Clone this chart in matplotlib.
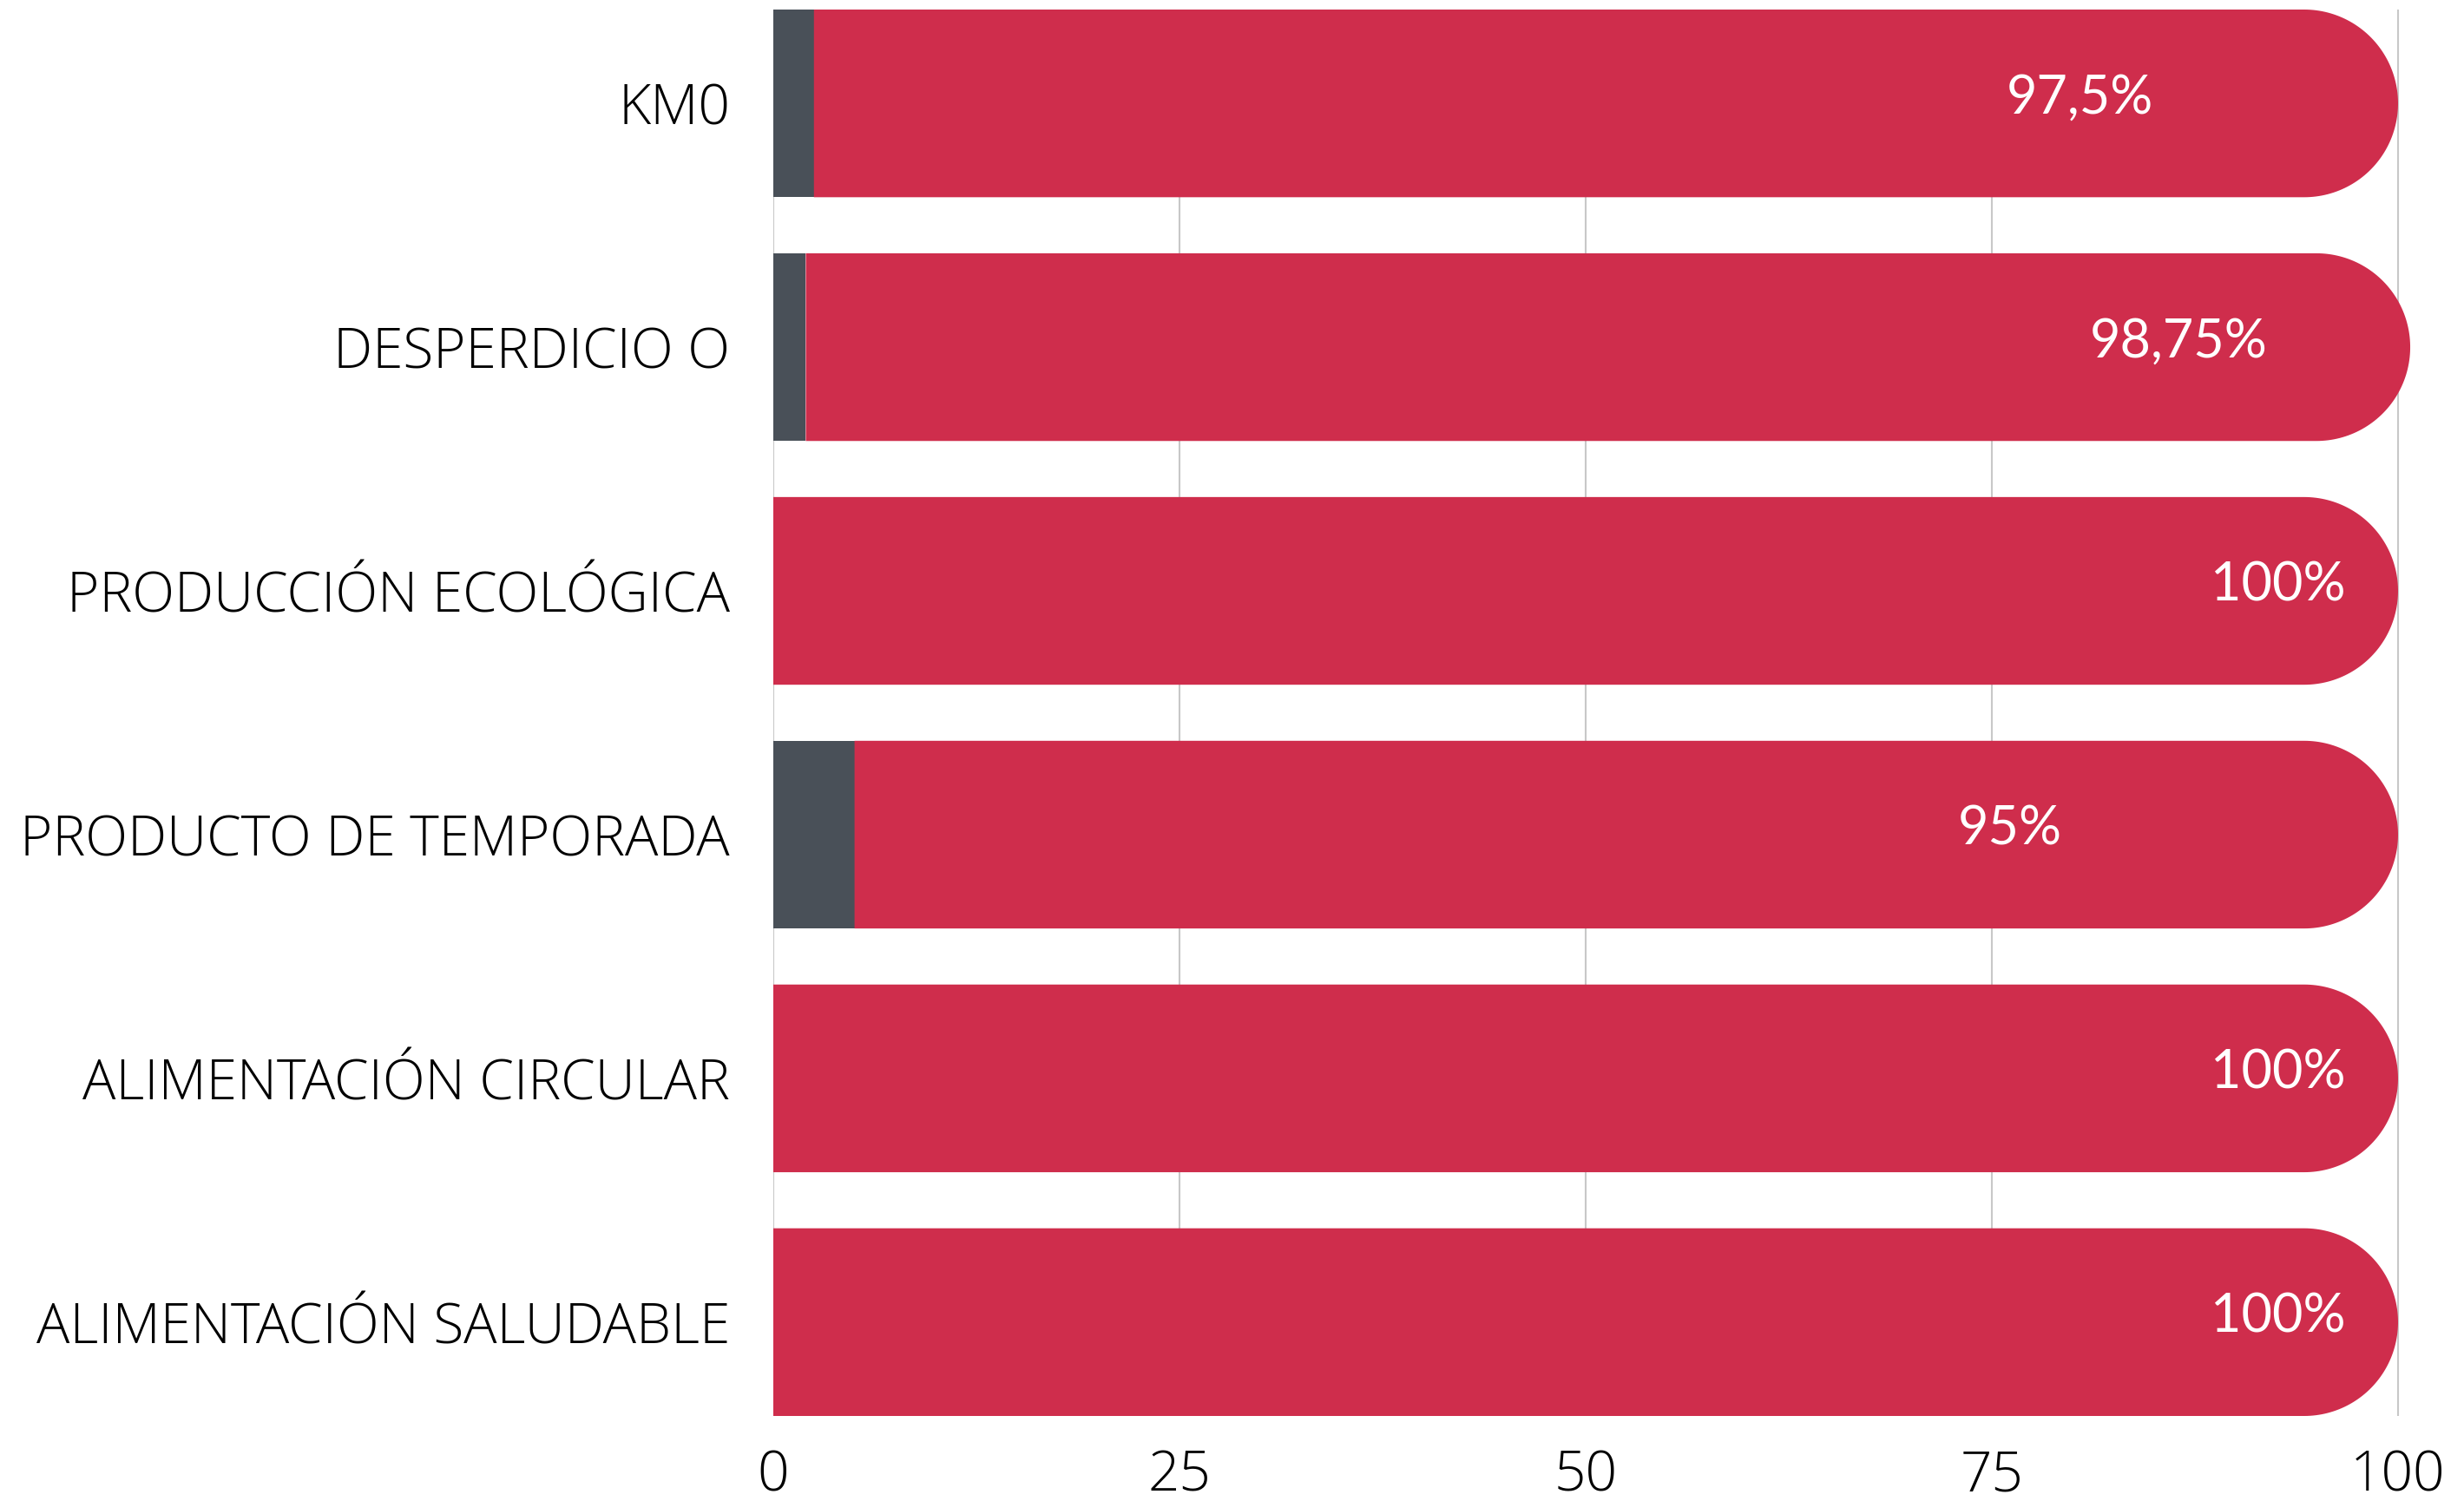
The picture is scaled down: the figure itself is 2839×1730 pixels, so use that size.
import matplotlib
matplotlib.use("Agg")
import matplotlib.pyplot as plt
from matplotlib.patches import Polygon, Rectangle
import numpy as np

# datos
categorias = ["KM0", "DESPERDICIO O", "PRODUCCIÓN ECOLÓGICA", "PRODUCTO DE TEMPORADA",
              "ALIMENTACIÓN CIRCULAR", "ALIMENTACIÓN SALUDABLE"]
no_valores = [2.5, 2.0, 0, 5.0, 0, 0]
si_valores = [97.5, 98.75, 100, 95, 100, 100]
etiquetas = ["97,5%", "98,75%", "100%", "95%", "100%", "100%"]
ticks_x = [0, 25, 50, 75, 100]

ROJO = "#CF2D4C"
GRIS = "#495058"
GRID = "#C8C8C8"
# desplazamiento de la etiqueta desde el final de la barra (unidades de datos)
label_pad = [19.6, 14.25, 7.4, 23.9, 7.4, 7.4]

W, H = 2839, 1730
fig = plt.figure(figsize=(W / 100, H / 100), dpi=100)
left, right = 891 / W, 1.0
bottom, top = 1 - 1632 / H, 1 - 11 / H
ax = fig.add_axes([left, bottom, right - left, top - bottom])

xmax = 100 * (W - 891) / (2763 - 891)
alto = 0.77
ax.set_xlim(0, xmax)
ax.set_ylim(len(categorias) - 1 + alto / 2, -alto / 2)

# radio del extremo redondeado en unidades de datos
px_x = (2763 - 891) / 100
px_y = (1632 - 11) / (len(categorias) - 1 + alto)
r_y = alto / 2
r_x = r_y * px_y / px_x

for i, (g, r) in enumerate(zip(no_valores, si_valores)):
    if g > 0:
        ax.add_patch(Rectangle((0, i - alto / 2), g, alto, facecolor=GRIS, edgecolor="none", zorder=2))
    fin = g + r
    t = np.linspace(-np.pi / 2, np.pi / 2, 100)
    xs = fin - r_x + r_x * np.cos(t)
    ys = i + r_y * np.sin(t)
    pts = [(g, i + alto / 2), (g, i - alto / 2)] + list(zip(xs, ys))
    ax.add_patch(Polygon(pts, closed=True, facecolor=ROJO, edgecolor="none", zorder=2))
    ax.text(fin - label_pad[i], i - 0.02, etiquetas[i], color="white", ha="center", va="center",
            fontsize=44, family="Lato", zorder=3)

ax.set_yticks(range(len(categorias)))
ax.set_yticklabels(categorias, fontsize=46, family="Open Sans", fontweight="light")
ax.set_xticks(ticks_x)
ax.set_xticklabels([str(v) for v in ticks_x], fontsize=46, family="Open Sans",
                   fontweight="light")
ax.tick_params(axis="y", length=0, pad=36)
ax.tick_params(axis="x", length=0, pad=27)

for v in ticks_x:
    ax.axvline(v, color=GRID, lw=1.5, zorder=1)
for s in ax.spines.values():
    s.set_visible(False)

fig.savefig("out.png", dpi=100)
